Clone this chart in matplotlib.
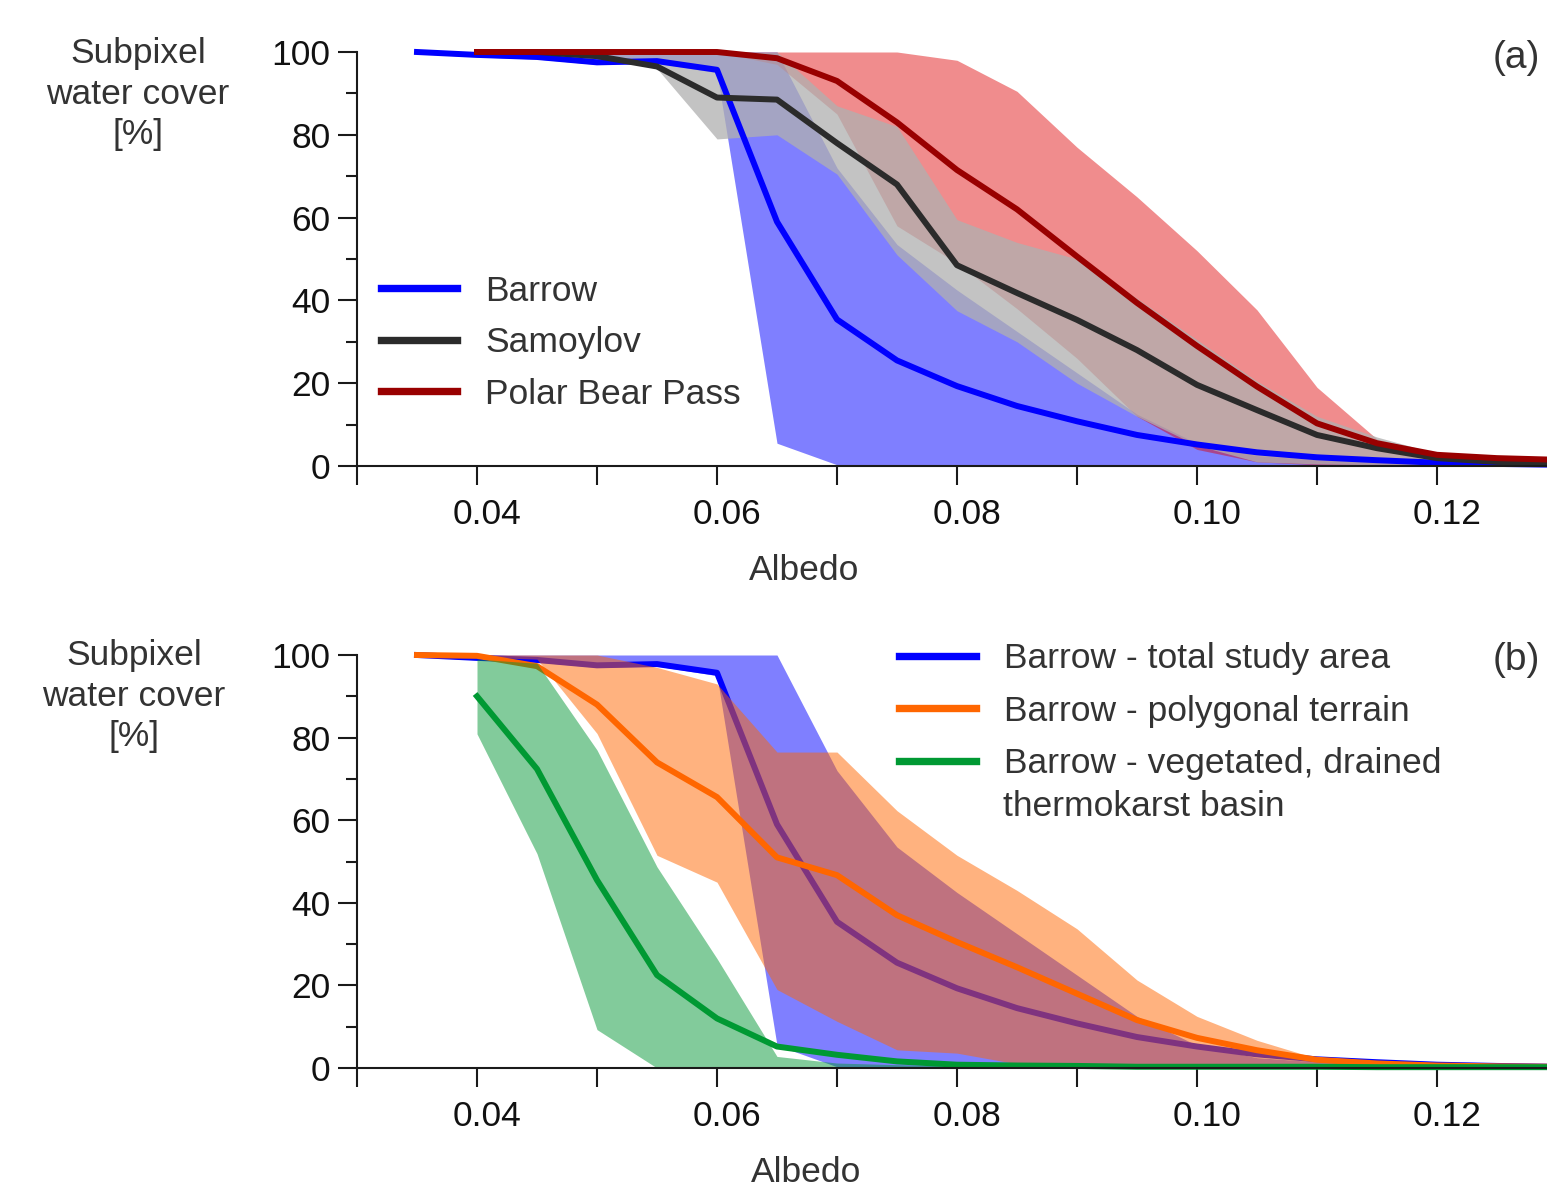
import matplotlib
matplotlib.use("Agg")
import matplotlib.pyplot as plt
from matplotlib.transforms import ScaledTranslation

plt.rcParams["font.family"] = ["Liberation Sans", "DejaVu Sans"]

# albedo grid, 0.035 .. 0.130
ALB = [0.035, 0.040, 0.045, 0.050, 0.055, 0.060, 0.065, 0.070, 0.075, 0.080,
       0.085, 0.090, 0.095, 0.100, 0.105, 0.110, 0.115, 0.120, 0.125, 0.130]
ALB_40 = ALB[1:]

# (a) Barrow (total study area, also reused in panel b)
barrow_mid = [100, 99.3, 98.8, 97.5, 97.8, 95.7, 59, 35.4, 25.5, 19.3,
              14.5, 10.8, 7.5, 5.2, 3.3, 2.1, 1.4, 0.8, 0.5, 0.3]
barrow_hi = [100, 100, 100, 100, 100, 100, 100, 72, 53.5, 42.5,
             32.5, 22.5, 12.5, 5.5, 2.5, 1.5, 1.2, 0.8, 0.6, 0.4]
barrow_lo = [99.6, 98.8, 98.3, 97, 97.3, 95, 5.5, 0.3, 0, 0,
             0, 0, 0, 0, 0, 0, 0, 0, 0, 0]

# (a) Samoylov, from 0.040
samoylov_mid = [100, 100, 99, 96.5, 89, 88.5, 78, 68, 48.5, 41.8,
                35.3, 28, 19.6, 13.5, 7.5, 4.3, 1.9, 1.0, 0.6]
samoylov_hi = [100, 100, 100, 100, 100, 100, 87, 82, 59.5, 54,
               50, 40.5, 30.5, 20.5, 12, 7, 3, 1.5, 1.0]
samoylov_lo = [100, 100, 99, 96, 79, 80, 70.5, 51, 37.5, 30,
               20, 12, 5, 1, 0.5, 0.3, 0.2, 0.1, 0]

# (a) Polar Bear Pass, from 0.040
pbp_mid = [100, 100, 100, 100, 100, 98.5, 93, 83, 71.5, 62,
           50.6, 39.4, 29, 19.2, 10.3, 5.5, 2.7, 1.9, 1.5]
pbp_hi = [100, 100, 100, 100, 100, 100, 100, 100, 98, 90.5,
          77, 65, 52, 37.7, 19, 6.5, 3, 2.2, 1.8]
pbp_lo = [100, 100, 100, 100, 100, 97, 85, 58, 49, 38,
          26, 12, 4, 1, 0.3, 0.2, 0.1, 0, 0]

# (b) Barrow polygonal terrain
poly_mid = [100, 99.8, 97.3, 88, 74, 65.6, 51, 46.7, 37, 30.5,
            24.4, 18, 11.6, 7.3, 4.3, 2, 1.1, 0.6, 0.4, 0.3]
poly_hi = [100, 100, 100, 100, 97, 93, 76.5, 76.5, 62.3, 51.5,
           43, 33.7, 21.3, 12.5, 6.7, 2.3, 1.2, 0.9, 0.6, 0.5]
poly_lo = [100, 99.5, 99, 81, 51.5, 45, 19, 11.3, 4.4, 3.6,
           1, 0.5, 0.3, 0.2, 0.1, 0, 0, 0, 0, 0]

# (b) Barrow vegetated, drained thermokarst basin, from 0.040
dtlb_mid = [90, 72.4, 45.5, 22.5, 12, 5.2, 3.2, 1.6, 0.8, 0.6,
            0.5, 0.3, 0.3, 0.3, 0.3, 0.2, 0.2, 0.2, 0.2]
dtlb_hi = [99, 98, 77, 48.7, 26.5, 2.8, 1.2, 0.8, 0.5, 0.4,
           0.3, 0.3, 0.3, 0.3, 0.3, 0.2, 0.2, 0.2, 0.2]
dtlb_lo = [80.9, 51.9, 9.3, 0, 0, 0, 0, 0, 0, 0,
           0, 0, 0, 0, 0, 0, 0, 0, 0]

XTICKS = [0.03, 0.04, 0.05, 0.06, 0.07, 0.08, 0.09, 0.10, 0.11, 0.12]
XTICKLABELS = ["", "0.04", "", "0.06", "", "0.08", "", "0.10", "", "0.12"]
YTICKS = [0, 20, 40, 60, 80, 100]
YMINOR = [10, 30, 50, 70, 90]

FS = 25.5
LW = 4.3
TXT = "#333333"

W, H = 1547, 1192
fig = plt.figure(figsize=(W / 100, H / 100), dpi=100)
ax_a = fig.add_axes([357 / W, (H - 466) / H, 1200 / W, 414 / H])
ax_b = fig.add_axes([357 / W, (H - 1068) / H, 1200 / W, 413 / H])


def style_axes(ax):
    ax.set_xlim(0.03, 0.13)
    ax.set_ylim(0, 100)
    for s in ("top", "right"):
        ax.spines[s].set_visible(False)
    for s in ("left", "bottom"):
        ax.spines[s].set_linewidth(1.5)
        ax.spines[s].set_color("#1a1a1a")
        ax.spines[s].set_zorder(6)
    ax.set_xticks(XTICKS)
    ax.set_xticklabels(XTICKLABELS)
    ax.set_yticks(YTICKS)
    ax.set_yticks(YMINOR, minor=True)
    ax.tick_params(axis="both", which="major", length=14, width=1.5,
                   color="#1a1a1a", labelsize=FS, labelcolor="#111111")
    ax.tick_params(axis="x", pad=9)
    ax.tick_params(axis="y", pad=5)
    ax.tick_params(axis="y", which="minor", length=8, width=1.5,
                   color="#1a1a1a")
    shift = ScaledTranslation(0.10, 0, fig.dpi_scale_trans)
    for lab in ax.get_xticklabels():
        lab.set_transform(lab.get_transform() + shift)


def legend(ax, anchor, loc, spacing):
    leg = ax.legend(loc=loc, bbox_to_anchor=anchor, frameon=False,
                    fontsize=FS, handlelength=2.15, handletextpad=0.8,
                    labelspacing=spacing, borderpad=0, borderaxespad=0)
    for t in leg.get_texts():
        t.set_color(TXT)
    for h in leg.legend_handles:
        h.set_linewidth(5.3)
    return leg


# ---------------- panel (a) ----------------
ax = ax_a
ax.fill_between(ALB, barrow_lo, barrow_hi, color=(0, 0, 1), alpha=0.5, lw=0)
ax.fill_between(ALB_40, pbp_lo, pbp_hi, color=(0.87, 0, 0.01), alpha=0.45, lw=0)
ax.fill_between(ALB_40, samoylov_lo, samoylov_hi, color=(0.69, 0.69, 0.69),
                alpha=0.76, lw=0)
ax.plot(ALB, barrow_mid, color="#0000ff", lw=LW, clip_on=False, label="Barrow")
ax.plot(ALB_40, samoylov_mid, color="#2b2b2b", lw=LW, clip_on=False,
        label="Samoylov")
ax.plot(ALB_40, pbp_mid, color="#990000", lw=LW, clip_on=False,
        label="Polar Bear Pass")
style_axes(ax)
legend(ax, (0.02, 0.298), "center left", 0.52)
fig.text(804 / W, 1 - 571 / H, "Albedo", fontsize=FS, color=TXT,
         ha="center", va="center")
fig.text(1540 / W, 1 - 58 / H, "(a)", fontsize=28, color=TXT,
         ha="right", va="center")
fig.text(138 / W, 1 - 94 / H, "Subpixel\nwater cover\n[%]", fontsize=FS,
         color=TXT, ha="center", va="center", linespacing=1.3)

# ---------------- panel (b) ----------------
# fills and lines interleaved: the orange band is drawn over the Barrow line
ax = ax_b
ax.fill_between(ALB, barrow_lo, barrow_hi, color=(0, 0, 1), alpha=0.5, lw=0,
                zorder=1)
ax.plot(ALB, barrow_mid, color="#0000ff", lw=LW, clip_on=False, zorder=1.5,
        label="Barrow - total study area")
ax.fill_between(ALB, poly_lo, poly_hi, color=(1, 0.4, 0), alpha=0.5, lw=0,
                zorder=2)
ax.plot(ALB, poly_mid, color="#ff6600", lw=LW, clip_on=False, zorder=2.5,
        label="Barrow - polygonal terrain")
ax.fill_between(ALB_40, dtlb_lo, dtlb_hi, color=(0, 0.59, 0.2), alpha=0.49,
                lw=0, zorder=3)
ax.plot(ALB_40, dtlb_mid, color="#009933", lw=LW, clip_on=False, zorder=3.5,
        label="Barrow - vegetated, drained")
style_axes(ax)
legend(ax, (0.452, 1.031), "upper left", 0.55)
fig.text(1003 / W, 1 - 806 / H, "thermokarst basin", fontsize=FS, color=TXT,
         ha="left", va="center")
fig.text(806 / W, 1 - 1173 / H, "Albedo", fontsize=FS, color=TXT,
         ha="center", va="center")
fig.text(1540 / W, 1 - 660 / H, "(b)", fontsize=28, color=TXT,
         ha="right", va="center")
fig.text(134 / W, 1 - 696 / H, "Subpixel\nwater cover\n[%]", fontsize=FS,
         color=TXT, ha="center", va="center", linespacing=1.3)

fig.savefig("out.png", dpi=100)
